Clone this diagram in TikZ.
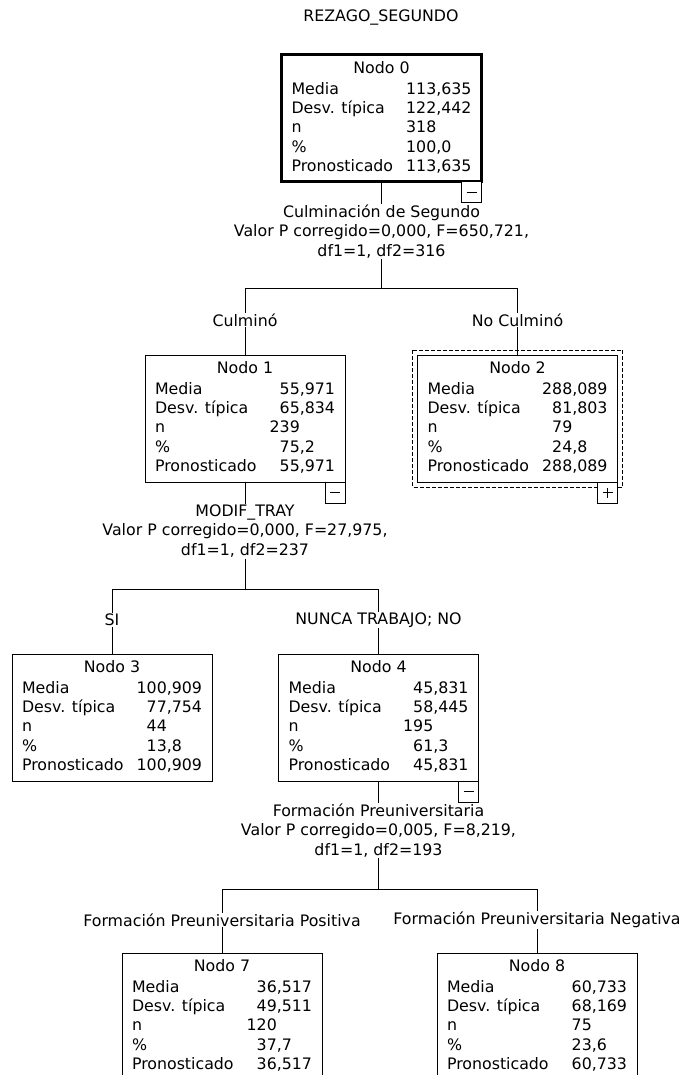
\documentclass[tikz,border=0pt]{standalone}
\usepackage{fontspec}
\setmainfont{DejaVu Sans}
\usepackage{array}
\usetikzlibrary{backgrounds, positioning, calc}

\newcommand{\nodostats}[6]{%
  \begin{tabular*}{180pt}{@{}l@{\extracolsep{\fill}}r@{\extracolsep{0pt}}l@{}}
    \multicolumn{3}{c}{Nodo #1}\\[1.5pt]
    Media & #2\\
    Desv. típica & #3\\
    n & #4\\
    \% & #5\\
    Pronosticado & #6
  \end{tabular*}}

\tikzset{
  tree_font/.style = {font=\fontsize{15.8}{19.3}\selectfont},
  split_font/.style = {font=\fontsize{15.8}{18.5}\selectfont},
  tree_line/.style = {line width=1pt}
}
\tikzset{
  node_box/.style = {tree_font, draw, line width=1pt, fill=white, minimum width=200pt,
    minimum height=127pt, inner sep=0pt, outer sep=0pt, anchor=north},
  node_root/.style = {node_box, line width=3pt},
  selected_frame/.style = {line width=1pt, dash pattern=on 4pt off 2pt},
  split_text/.style = {split_font, align=center, fill=white, inner sep=1pt, outer sep=0pt},
  branch/.style = {tree_font, fill=white, inner sep=1pt}
}
\tikzset{
  toggle_box/.style = {draw, line width=1pt, fill=white, minimum width=20pt, minimum height=21pt,
    inner sep=0pt, outer sep=0pt, anchor=north east},
  toggle_minus/.style = {toggle_box, path picture={
    \draw[line width=1pt] ([xshift=-5pt]path picture bounding box.center)
      -- ([xshift=5pt]path picture bounding box.center);}},
  toggle_plus/.style = {toggle_box, path picture={
    \draw[line width=1pt] ([xshift=-5pt]path picture bounding box.center)
      -- ([xshift=5pt]path picture bounding box.center);
    \draw[line width=1pt] ([yshift=-5pt]path picture bounding box.center)
      -- ([yshift=5pt]path picture bounding box.center);}}
}

\begin{document}
\begin{tikzpicture}[x=1pt, y=-1pt]{
        \useasboundingbox (0,0) rectangle (684,1075);

        % Title
        \node[tree_font] (title) at (381,18) {REZAGO\_SEGUNDO};

        % Nodes
        \node[node_root] (n_0) at (381.5,55) {
            \nodostats{0}{113&,635}{122&,442}{318&}{100&,0}{113&,635}};
        \node[node_box] (n_1) at (245,355) {
            \nodostats{1}{55&,971}{65&,834}{239&}{75&,2}{55&,971}};
        \node[node_box] (n_2) at (517.5,355) {
            \nodostats{2}{288&,089}{81&,803}{79&}{24&,8}{288&,089}};
        \node[node_box] (n_3) at (112,654) {
            \nodostats{3}{100&,909}{77&,754}{44&}{13&,8}{100&,909}};
        \node[node_box] (n_4) at (378.5,654) {
            \nodostats{4}{45&,831}{58&,445}{195&}{61&,3}{45&,831}};
        \node[node_box] (n_7) at (222,953) {
            \nodostats{7}{36&,517}{49&,511}{120&}{37&,7}{36&,517}};
        \node[node_box] (n_8) at (537,953) {
            \nodostats{8}{60&,733}{68&,169}{75&}{23&,6}{60&,733}};

        % selected node
        \draw[selected_frame] ([shift={(-5pt,5pt)}]n_2.north west) rectangle ([shift={(5pt,-5pt)}]n_2.south east);

        % Toggles
        \node[toggle_minus] (n_0_tg) at (n_0.south east) {};
        \node[toggle_minus] (n_1_tg) at (n_1.south east) {};
        \node[toggle_plus] (n_2_tg) at (n_2.south east) {};
        \node[toggle_minus] (n_4_tg) at (n_4.south east) {};

        % Splits
        \node[split_text, below=22pt of n_0] (s_0) {
            Culminación de Segundo\\
            Valor P corregido=0,000, F=650,721,\\[2pt]
            df1=1, df2=316};
        \node[split_text, below=22pt of n_1] (s_1) {
            MODIF\_TRAY\\
            Valor P corregido=0,000, F=27,975,\\[2pt]
            df1=1, df2=237};
        \node[split_text, below=22pt of n_4] (s_4) {
            Formación Preuniversitaria\\
            Valor P corregido=0,005, F=8,219,\\[2pt]
            df1=1, df2=193};

        \coordinate (j_0) at ([yshift=-106pt]n_0.south);
        \coordinate (j_1) at ([yshift=-107pt]n_1.south);
        \coordinate (j_4) at ([yshift=-108pt]n_4.south);

        % Branch labels
        \node[branch, yshift=35pt] at (n_1.north) (l_1) {Culminó};
        \node[branch, yshift=35pt] at (n_2.north) (l_2) {No Culminó};
        \node[branch, yshift=34pt] at (n_3.north) (l_3) {SI};
        \node[branch, yshift=34pt] at (n_4.north) (l_4) {NUNCA TRABAJO; NO};
        \node[branch, yshift=33pt] at (n_7.north) (l_7) {Formación Preuniversitaria Positiva};
        \node[branch, yshift=33pt] at (n_8.north) (l_8) {Formación Preuniversitaria Negativa};

        % Lines
        \begin{scope}[on background layer]
            \draw[tree_line] (n_0.south) -- (j_0);
            \draw[tree_line] (j_0) -| (n_1.north);
            \draw[tree_line] (j_0) -| (n_2.north);

            \draw[tree_line] (n_1.south) -- (j_1);
            \draw[tree_line] (j_1) -| (n_3.north);
            \draw[tree_line] (j_1) -| (n_4.north);

            \draw[tree_line] (n_4.south) -- (j_4);
            \draw[tree_line] (j_4) -| (n_7.north);
            \draw[tree_line] (j_4) -| (n_8.north);
        \end{scope}
        }
\end{tikzpicture}
\end{document}
